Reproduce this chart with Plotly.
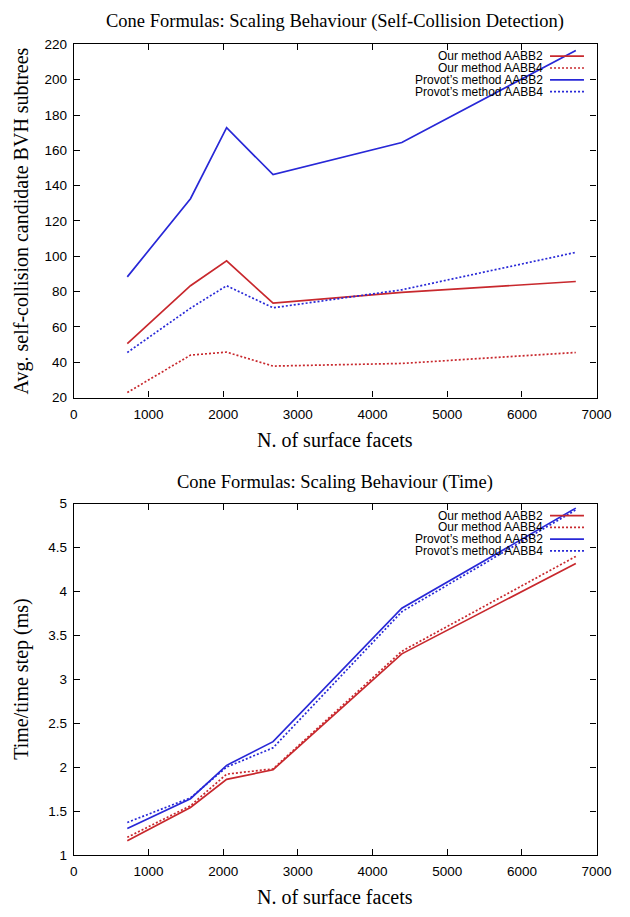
import plotly.graph_objects as go

# ---------------- data ----------------
facets = [716, 1562, 2046, 2668, 4392, 6722]

series_names = ["Our method AABB2", "Our method AABB4",
                "Provot\u2019s method AABB2", "Provot\u2019s method AABB4"]

# Self-collision candidate BVH subtrees
our_aabb2_sc = [50.5, 83.3, 97.4, 73.4, 79.5, 85.7]
our_aabb4_sc = [22.8, 44.0, 45.7, 37.8, 39.3, 45.5]
prov_aabb2_sc = [88.3, 132.6, 172.8, 146.2, 164.4, 216.6]
prov_aabb4_sc = [45.5, 70.6, 83.3, 70.8, 81.0, 102.2]

# Time per time step (ms)
our_aabb2_t = [1.16, 1.54, 1.86, 1.97, 3.29, 4.32]
our_aabb4_t = [1.20, 1.56, 1.92, 1.98, 3.32, 4.40]
prov_aabb2_t = [1.30, 1.64, 2.02, 2.29, 3.81, 4.95]
prov_aabb4_t = [1.37, 1.65, 2.00, 2.22, 3.77, 4.93]

x_ticks = [0, 1000, 2000, 3000, 4000, 5000, 6000, 7000]
y1_ticks = [20, 40, 60, 80, 100, 120, 140, 160, 180, 200, 220]
y2_ticks = [1, 1.5, 2, 2.5, 3, 3.5, 4, 4.5, 5]

title_top = "Cone Formulas: Scaling Behaviour (Self-Collision Detection)"
title_bot = "Cone Formulas: Scaling Behaviour (Time)"
xlabel = "N. of surface facets"
ylabel_top = "Avg. self-collision candidate BVH subtrees"
ylabel_bot = "Time/time step (ms)"

# ---------------- style ----------------
W, H = 630, 917
RED = "rgb(200,40,45)"
BLUE = "rgb(40,40,215)"
DOT = "2px,2px"
styles = [(RED, "solid"), (RED, DOT), (BLUE, "solid"), (BLUE, DOT)]
LW = 1.7
SERIF = "Liberation Serif, Times New Roman, serif"
SANS = "Liberation Sans, Arial, sans-serif"


def px(x):
    return x / W


def py(y):
    return 1 - y / H


# plot area pixels
AX_L, AX_R = 72, 611
TOP_T, TOP_B = 38, 397
BOT_T, BOT_B = 505, 862

fig = go.Figure()

top_series = [our_aabb2_sc, our_aabb4_sc, prov_aabb2_sc, prov_aabb4_sc]
bot_series = [our_aabb2_t, our_aabb4_t, prov_aabb2_t, prov_aabb4_t]

for name, ys, (c, d) in zip(series_names, top_series, styles):
    fig.add_trace(go.Scatter(x=facets, y=ys, mode="lines", name=name,
                             line=dict(color=c, dash=d, width=LW),
                             xaxis="x", yaxis="y", showlegend=False))
for name, ys, (c, d) in zip(series_names, bot_series, styles):
    fig.add_trace(go.Scatter(x=facets, y=ys, mode="lines", name=name,
                             line=dict(color=c, dash=d, width=LW),
                             xaxis="x2", yaxis="y2", showlegend=False))

axis_common = dict(showline=True, linecolor="black", linewidth=1.2, mirror="ticks",
                   ticks="inside", ticklen=6, tickwidth=1, tickcolor="black",
                   showgrid=False, zeroline=False,
                   tickfont=dict(family=SANS, size=13.5, color="black"))

fig.update_layout(
    width=W, height=H, autosize=False,
    margin=dict(l=0, r=0, t=0, b=0),
    paper_bgcolor="white", plot_bgcolor="white",
    xaxis=dict(domain=[px(AX_L), px(AX_R)], anchor="y", range=[0, 7000],
               tickvals=x_ticks, ticklabelstandoff=4, **axis_common),
    yaxis=dict(domain=[py(TOP_B), py(TOP_T)], anchor="x", range=[20, 220],
               tickvals=y1_ticks, ticklabelstandoff=3, **axis_common),
    xaxis2=dict(domain=[px(AX_L), px(AX_R)], anchor="y2", range=[0, 7000],
                tickvals=x_ticks, ticklabelstandoff=4, **axis_common),
    yaxis2=dict(domain=[py(BOT_B), py(BOT_T)], anchor="x2", range=[1, 5],
                tickvals=y2_ticks, ticklabelstandoff=3, **axis_common),
)


def label(text, x, y, size, family, angle=0, xanchor="center"):
    return dict(text=text, x=px(x), y=py(y), xref="paper", yref="paper",
                xanchor=xanchor, yanchor="middle", showarrow=False, borderpad=0,
                textangle=angle, font=dict(family=family, size=size, color="black"))


cxp = (AX_L + AX_R) / 2
ann = [
    label(title_top, cxp, 15, 18.5, SERIF),
    label(title_bot, cxp, 483, 18.5, SERIF),
    label(xlabel, cxp, 440, 20, SERIF),
    label(xlabel, cxp, 905, 20, SERIF),
    label(ylabel_top, 18, (TOP_T + TOP_B) / 2, 20, SERIF, angle=-90),
    label(ylabel_bot, 18, (BOT_T + BOT_B) / 2, 20, SERIF, angle=-90),
]

shapes = []
# manual gnuplot-style legends (text right-aligned, sample line on the right)
for top in (TOP_T, BOT_T):
    for i, (name, (c, d)) in enumerate(zip(series_names, styles)):
        yy = top + 12 + 12 * i
        ann.append(label(name, 557, yy, 12, SANS, xanchor="right"))
        shapes.append(dict(type="line", xref="paper", yref="paper",
                           x0=px(563), x1=px(598), y0=py(yy), y1=py(yy),
                           line=dict(color=c, dash=d, width=LW)))

fig.update_layout(annotations=ann, shapes=shapes)
fig.write_html("out.html")
